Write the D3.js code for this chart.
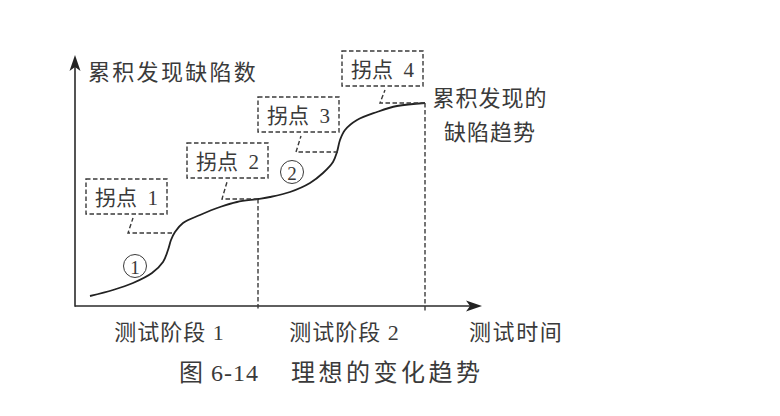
<!DOCTYPE html>
<meta charset="utf-8">
<style>
  body { margin: 0; background: #fff; }
  svg text {
    font-family: "Liberation Serif", "Noto Sans CJK SC", serif;
    fill: #3a3a3a;
  }
  .dash { fill: none; stroke: #3a3a3a; stroke-width: 1.4px; stroke-dasharray: 4.5 2.5; }
  .axis { stroke: #2a2a2a; stroke-width: 1.6px; fill: none; }
  .curve { fill: none; stroke: #222; stroke-width: 1.8px; }
</style>
<body>
<script src="https://d3js.org/d3.v7.min.js"></script>
<script>
  // cumulative defects found over test time (arbitrary units)
  var curveT = [3.75, 9.5, 14.5, 19.25, 22, 23.25, 24, 25, 27, 31.25, 36.25, 40.5, 45.75,
                48.75, 53.75, 58.75, 62, 64.5, 65.5, 66.25, 67.5, 70.5, 75.5, 80.5, 87.5];
  var curveD = [4, 6.4, 9.2, 13.2, 17.6, 22.4, 26.4, 29.6, 33.2, 36.4, 39.6, 41.6, 42.8,
                43.6, 45.6, 49.2, 53.2, 57.6, 61.6, 66.4, 70.4, 74.4, 77.6, 80, 81.2];

  // turning points (拐点)
  var turnLabels = ["拐点 1", "拐点 2", "拐点 3", "拐点 4"];
  var turnT = [24.25, 45.75, 65.75, 87.5];
  var turnD = [29.2, 42.8, 61.6, 81.2];

  // test stages
  var stageLabels = ["测试阶段 1", "测试阶段 2"];
  var stageEnds = [45.75, 87.5];
  var stageLevels = [42.8, 81.2];

  var phaseMarks = ["1", "2"];

  var width = 780, height = 416;

  var x = d3.scaleLinear().domain([0, 100]).range([75, 475]);
  var y = d3.scaleLinear().domain([0, 100]).range([306, 56]);

  var svg = d3.select("body").append("svg")
    .attr("width", width)
    .attr("height", height)
    .style("background", "#fff");

  // axes with arrow heads
  svg.append("line").attr("class", "axis")
    .attr("x1", x(0)).attr("y1", y(0)).attr("x2", x(100) + 2).attr("y2", y(0));
  svg.append("line").attr("class", "axis")
    .attr("x1", x(0)).attr("y1", y(0) + 0.8).attr("x2", x(0)).attr("y2", y(100) + 6);

  var tipX = x(100) + 7, tipY = y(100) - 1;
  svg.append("path")
    .attr("d", `M${tipX},${y(0)} L${tipX - 16},${y(0) - 5.5} L${tipX - 12},${y(0)} L${tipX - 16},${y(0) + 5.5} Z`)
    .attr("fill", "#222");
  svg.append("path")
    .attr("d", `M${x(0)},${tipY} L${x(0) - 5.5},${tipY + 16} L${x(0)},${tipY + 12} L${x(0) + 5.5},${tipY + 16} Z`)
    .attr("fill", "#222");

  // stage boundaries
  stageEnds.forEach(function(t, i) {
    svg.append("line").attr("class", "dash")
      .attr("x1", x(t)).attr("x2", x(t))
      .attr("y1", y(stageLevels[i])).attr("y2", y(0) + 5);
  });

  // curve
  var line = d3.line()
    .x(function(d, i) { return x(curveT[i]); })
    .y(function(d, i) { return y(curveD[i]); })
    .curve(d3.curveCatmullRom.alpha(0.5));

  svg.append("path").attr("class", "curve").attr("d", line(curveT));

  // turning point callouts
  var boxW = 81, boxH = 35;
  var callout = [
    {dx: -86, dy: -54, lead: 44},
    {dx: -71, dy: -56, lead: 36},
    {dx: -80, dy: -55, lead: 42},
    {dx: -83, dy: -52, lead: 45}
  ];

  turnLabels.forEach(function(lab, i) {
    var px = x(turnT[i]), py = y(turnD[i]);
    var c = callout[i];
    var bx = px + c.dx, by = py + c.dy;
    var lx = px - c.lead;
    svg.append("path").attr("class", "dash")
      .attr("d", `M${px},${py} H${lx} L${lx + 5},${by + boxH + 4}`);
    svg.append("rect").attr("class", "dash")
      .attr("x", bx).attr("y", by).attr("width", boxW).attr("height", boxH);
    svg.append("text")
      .attr("x", bx + boxW / 2).attr("y", by + boxH / 2 + 1)
      .attr("text-anchor", "middle")
      .attr("dominant-baseline", "central")
      .style("font-size", "21px")
      .style("white-space", "pre")
      .text(lab.replace(" ", "  "));
  });

  // phase marks ① ②
  var markPos = [[15, 16], [54.25, 53.6]];
  phaseMarks.forEach(function(m, i) {
    var cx = x(markPos[i][0]), cy = y(markPos[i][1]);
    svg.append("circle").attr("cx", cx).attr("cy", cy).attr("r", 11.5)
      .attr("fill", "none").attr("stroke", "#3a3a3a").attr("stroke-width", 1);
    svg.append("text").attr("x", cx).attr("y", cy + 1)
      .attr("text-anchor", "middle").attr("dominant-baseline", "central")
      .style("font-size", "19px")
      .text(m);
  });

  // axis titles
  svg.append("text")
    .attr("x", 88).attr("y", 72)
    .attr("dominant-baseline", "central")
    .style("font-size", "22px").style("letter-spacing", "2.3px")
    .text("累积发现缺陷数");

  svg.append("text")
    .attr("x", 469).attr("y", 332)
    .attr("dominant-baseline", "central")
    .style("font-size", "22px").style("letter-spacing", "1.6px")
    .text("测试时间");

  var stageStarts = [0].concat(stageEnds.slice(0, -1));
  stageLabels.forEach(function(lab, i) {
    svg.append("text")
      .attr("x", (x(stageStarts[i]) + x(stageEnds[i])) / 2 + 3).attr("y", 332)
      .attr("text-anchor", "middle")
      .attr("dominant-baseline", "central")
      .style("font-size", "22px").style("letter-spacing", "1px")
      .style("white-space", "pre")
      .text(lab);
  });

  // right-hand label
  var rl = svg.append("text")
    .attr("text-anchor", "middle")
    .style("font-size", "22px").style("letter-spacing", "1px");
  rl.append("tspan").attr("x", 490).attr("y", 98).attr("dominant-baseline", "central").text("累积发现的");
  rl.append("tspan").attr("x", 490).attr("y", 132).attr("dominant-baseline", "central").text("缺陷趋势");

  // caption
  svg.append("text")
    .attr("x", 179).attr("y", 373)
    .attr("dominant-baseline", "central")
    .style("font-size", "24px").style("letter-spacing", "1px")
    .style("white-space", "pre")
    .text("图 6-14");
  svg.append("text")
    .attr("x", 291).attr("y", 373)
    .attr("dominant-baseline", "central")
    .style("font-size", "24px").style("letter-spacing", "3.5px")
    .text("理想的变化趋势");
</script>
</body>
